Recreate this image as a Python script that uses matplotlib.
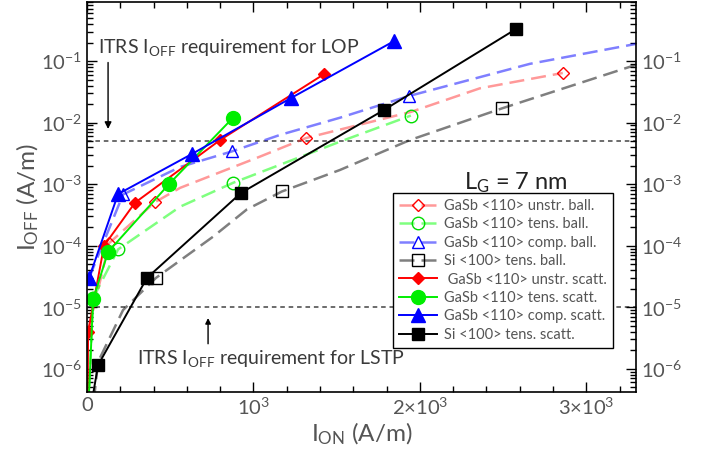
import numpy as np
import matplotlib
matplotlib.use('Agg')
import matplotlib.pyplot as plt
from matplotlib.ticker import FixedLocator, FixedFormatter, MultipleLocator, NullFormatter

plt.rcParams['font.family'] = ['Lato', 'DejaVu Sans']
plt.rcParams['mathtext.default'] = 'regular'

# ballistic (dashed) curves -- I_ON [A/m], I_OFF [A/m]
x_gasb_unstr_ball = [6, 132, 408, 559, 1039, 1315, 1946, 2360, 2859]
y_gasb_unstr_ball = [4e-6, 1.1e-4, 5.1e-4, 8.7e-4, 2.8e-3, 5.6e-3, 1.49e-2, 3.6e-2, 6.4e-2]
x_gasb_tens_ball = [2, 36, 186, 559, 877, 1520, 1946]
y_gasb_tens_ball = [1e-7, 1.4e-5, 8.7e-5, 4.3e-4, 1.05e-3, 4.9e-3, 1.3e-2]
x_gasb_comp_ball = [12, 216, 559, 870, 1159, 1520, 1934, 2661, 3300]
y_gasb_comp_ball = [3.0e-5, 6.8e-4, 1.9e-3, 3.4e-3, 6.3e-3, 1.2e-2, 2.7e-2, 9.0e-2, 0.19]
x_si_tens_ball = [40, 66, 216, 414, 757, 961, 1171, 1520, 1940, 2493, 3300]
y_si_tens_ball = [3e-7, 1.3e-6, 9e-6, 3.0e-5, 1.4e-4, 3.9e-4, 7.6e-4, 1.7e-3, 5.2e-3, 1.7e-2, 8.7e-2]

# scattering (solid) curves
x_gasb_unstr_scatt = [2, 6, 102, 288, 799, 1423]
y_gasb_unstr_scatt = [1e-7, 4e-6, 1.0e-4, 5.0e-4, 5.2e-3, 6.1e-2]
x_gasb_tens_scatt = [2, 36, 126, 492, 877]
y_gasb_tens_scatt = [1e-7, 1.35e-5, 7.9e-5, 1.0e-3, 1.2e-2]
x_gasb_comp_scatt = [12, 186, 631, 1225, 1844]
y_gasb_comp_scatt = [3.0e-5, 6.9e-4, 3.1e-3, 2.5e-2, 0.21]
x_si_tens_scatt = [10, 66, 360, 925, 1784, 2577]
y_si_tens_scatt = [1.5e-7, 1.15e-6, 3.0e-5, 7.2e-4, 1.6e-2, 0.33]

itrs_lop = 5e-3
itrs_lstp = 1e-5

x_ticks = [0, 1000, 2000, 3000]
x_ticklabels = ['0', r'$\mathdefault{10^3}$', r'$\mathdefault{2{\times}10^3}$',
                r'$\mathdefault{3{\times}10^3}$']
y_ticks = [1e-6, 1e-5, 1e-4, 1e-3, 1e-2, 1e-1]
y_ticklabels = [r'$\mathdefault{10^{-%d}}$' % k for k in (6, 5, 4, 3, 2, 1)]

txt = '#555555'
fig = plt.figure(figsize=(7.14, 4.59), dpi=100)
ax = fig.add_axes([0.122, 0.146, 0.769, 0.849])

dash = (0, (6, 2.8))
ax.plot(x_gasb_unstr_ball, y_gasb_unstr_ball, color=(1, 0, 0, 0.4), ls=dash, lw=1.8,
        marker='D', ms=6.5, mfc='none', mec='red', mew=1.0, markevery=[1, 2, 5, 8],
        label='GaSb <110> unstr. ball.')
ax.plot(x_gasb_tens_ball, y_gasb_tens_ball, color=(0, 1, 0, 0.5), ls=dash, lw=1.8,
        marker='o', ms=9, mfc='none', mec='#00dd00', mew=1.0, markevery=[1, 2, 4, 6],
        label='GaSb <110> tens. ball.')
ax.plot(x_gasb_comp_ball, y_gasb_comp_ball, color=(0, 0, 1, 0.5), ls=dash, lw=1.8,
        marker='^', ms=9, mfc='none', mec='blue', mew=1.0, markevery=[0, 1, 3, 6],
        label='GaSb <110> comp. ball.')
ax.plot(x_si_tens_ball, y_si_tens_ball, color=(0, 0, 0, 0.5), ls=dash, lw=1.8,
        marker='s', ms=9, mfc='none', mec='black', mew=1.0, markevery=[3, 6, 9],
        label='Si <100> tens. ball.')

ax.plot(x_gasb_unstr_scatt, y_gasb_unstr_scatt, color='red', lw=1.4,
        marker='D', ms=6.5, label=' GaSb <110> unstr. scatt.')
ax.plot(x_gasb_tens_scatt, y_gasb_tens_scatt, color='#00ee00', lw=1.4,
        marker='o', ms=10, label='GaSb <110> tens. scatt.')
ax.plot(x_gasb_comp_scatt, y_gasb_comp_scatt, color='blue', lw=1.4,
        marker='^', ms=10, label='GaSb <110> comp. scatt.')
ax.plot(x_si_tens_scatt, y_si_tens_scatt, color='black', lw=1.4,
        marker='s', ms=9, label='Si <100> tens. scatt.')

ax.axhline(itrs_lop, color='#444444', ls=(0, (3, 2.5)), lw=1.1, zorder=1)
ax.axhline(itrs_lstp, color='#444444', ls=(0, (3, 2.5)), lw=1.1, zorder=1)

ax.set_yscale('log')
ax.set_xlim(0, 3300)
ax.set_ylim(4.2e-7, 0.9)

ax.xaxis.set_major_locator(FixedLocator(x_ticks))
ax.xaxis.set_major_formatter(FixedFormatter(x_ticklabels))
ax.xaxis.set_minor_locator(MultipleLocator(200))
ax.yaxis.set_major_locator(FixedLocator(y_ticks))
ax.yaxis.set_major_formatter(FixedFormatter(y_ticklabels))
minor_y = [m * 10.0 ** e for e in range(-7, 0) for m in range(2, 10)]
ax.yaxis.set_minor_locator(FixedLocator([v for v in minor_y if 4.2e-7 <= v <= 0.9]))
ax.yaxis.set_minor_formatter(NullFormatter())
ax.tick_params(which='both', direction='in', top=True, right=True, labelright=True,
               labelsize=14.5, labelcolor=txt, width=1.0)
ax.tick_params(which='major', length=7)
ax.tick_params(which='minor', length=4)
for s in ax.spines.values():
    s.set_linewidth(1.2)

ax.set_xlabel(r'$\mathdefault{I_{ON}}$ (A/m)', fontsize=17.5, color=txt, labelpad=2)
ax.set_ylabel(r'$\mathdefault{I_{OFF}}$ (A/m)', fontsize=17.5, color=txt, labelpad=0)

ax.text(0.02, 0.885, r'ITRS $\mathdefault{I_{OFF}}$ requirement for LOP', transform=ax.transAxes,
        fontsize=14, color='#3a3a3a', va='center', ha='left')
ax.text(0.091, 0.087, r'ITRS $\mathdefault{I_{OFF}}$ requirement for LSTP', transform=ax.transAxes,
        fontsize=14, color='#3a3a3a', va='center', ha='left')
ax.annotate('', xy=(126, 7.1e-3), xytext=(126, 0.105),
            arrowprops=dict(arrowstyle='-|>', color='black', lw=1.0, mutation_scale=10))
ax.annotate('', xy=(727, 7.4e-6), xytext=(727, 2.3e-6),
            arrowprops=dict(arrowstyle='-|>', color='black', lw=1.0, mutation_scale=8))
ax.text(0.78, 0.538, r'$\mathdefault{L_G}$ = 7 nm', transform=ax.transAxes,
        fontsize=17, color='#222222', va='center', ha='center')

leg = ax.legend(loc='upper left', bbox_to_anchor=(0.557, 0.51), borderaxespad=0,
                fontsize=10.5, labelspacing=0.3, handlelength=2.6, borderpad=0.4,
                handletextpad=0.5, frameon=True, fancybox=False, framealpha=1,
                edgecolor='black')
leg.get_frame().set_linewidth(1.0)
for t in leg.get_texts():
    t.set_color(txt)

fig.savefig('out.png', dpi=100)
